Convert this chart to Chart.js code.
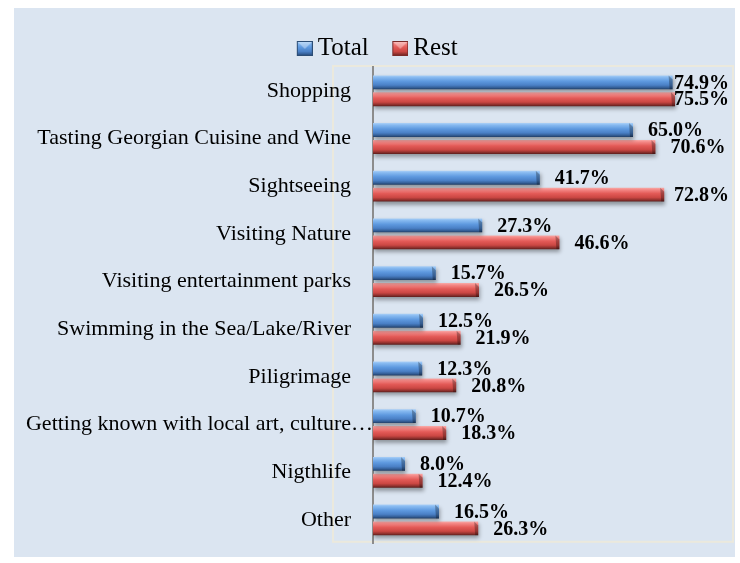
<!DOCTYPE html>
<html><head><meta charset="utf-8">
<script src="https://cdn.jsdelivr.net/npm/chart.js@4.4.1/dist/chart.umd.min.js"></script>
<style>
html,body{margin:0;padding:0;background:#fff;}
#wrap{position:absolute;left:14px;top:8px;width:721px;height:549px;background:#dbe5f1;}
</style></head><body>
<div id="wrap"><canvas id="c"></canvas></div>
<script>
const categories = ['Shopping','Tasting Georgian Cuisine and Wine','Sightseeing','Visiting Nature','Visiting entertainment parks','Swimming in the Sea/Lake/River','Piligrimage','Getting known with local art, culture\u2026','Nigthlife','Other'];
const totalValues = [74.9,65.0,41.7,27.3,15.7,12.5,12.3,10.7,8.0,16.5];
const restValues  = [75.5,70.6,72.8,46.6,26.5,21.9,20.8,18.3,12.4,26.3];
const seriesNames = ['Total','Rest'];
const axisMin = 0, axisMax = 90;
const overflowingLabel = 7; // label Excel lets run up to the axis

const palettes = [
  [[0,'#a9cff7'],[0.14,'#86b9f0'],[0.42,'#5e99df'],[0.7,'#4a80c6'],[0.86,'#36629c'],[1,'#213e66']],
  [[0,'#f8aaa8'],[0.14,'#f48886'],[0.42,'#e35a57'],[0.7,'#cb4743'],[0.86,'#963330'],[1,'#5c1e1c']]
];
const solid = [['#4f81bd','#2c4d75'],['#c0504d','#7b2a28']];

function legendSwatch(i){
  const L = 3;
  const cv = document.createElement('canvas');
  cv.width = 16 + L; cv.height = 15;
  const c = cv.getContext('2d');
  c.translate(L, 0);
  const g = c.createLinearGradient(0,0,0,15);
  palettes[i].forEach(([o,col])=>g.addColorStop(o,col));
  c.fillStyle = g; c.fillRect(0,0,16,15);
  c.fillStyle = 'rgba(255,255,255,0.35)';
  c.beginPath(); c.moveTo(0,0); c.lineTo(16,0); c.lineTo(8,8); c.closePath(); c.fill();
  c.strokeStyle = solid[i][1]; c.lineWidth = 1; c.strokeRect(0.5,0.5,15,14);
  return cv;
}
const swatches = [legendSwatch(0), legendSwatch(1)];

const plotFrame = {
  id:'plotFrame',
  beforeDraw(chart){
    const {ctx, chartArea:a} = chart;
    ctx.save();
    ctx.strokeStyle = '#ebe9dd';
    ctx.lineWidth = 2;
    ctx.strokeRect(a.left - 40, a.top - 1, a.right - a.left + 40, a.bottom - a.top - 1);
    ctx.restore();
  }
};

const barStyle = {
  id:'barStyle',
  beforeDatasetsDraw(chart){
    const ctx = chart.ctx;
    chart.data.datasets.forEach((ds,i)=>{
      chart.getDatasetMeta(i).data.forEach(el=>{
        const h = el.height, top = el.y - h/2;
        const g = ctx.createLinearGradient(0, top, 0, top + h);
        palettes[i].forEach(([o,c])=>g.addColorStop(o,c));
        el.options.backgroundColor = g;
      });
    });
    ctx.save();
    ctx.shadowColor = 'rgba(0,0,0,0.35)';
    ctx.shadowBlur = 4;
    ctx.shadowOffsetX = 1;
    ctx.shadowOffsetY = 3;
  },
  afterDatasetsDraw(chart){
    const ctx = chart.ctx;
    ctx.restore();
    const a = chart.chartArea;
    chart.data.datasets.forEach((ds,i)=>{
      chart.getDatasetMeta(i).data.forEach(el=>{
        const h = el.height, top = el.y - h/2, bot = el.y + h/2, x = el.x;
        ctx.fillStyle = 'rgba(0,0,0,0.28)';
        ctx.beginPath();
        ctx.moveTo(x - 4, top); ctx.lineTo(x, top + 4); ctx.lineTo(x, bot); ctx.lineTo(x - 3, bot);
        ctx.closePath(); ctx.fill();
      });
    });
    ctx.save();
    ctx.font = 'bold 20px "Liberation Serif"';
    ctx.fillStyle = '#000';
    ctx.textBaseline = 'middle';
    ctx.textAlign = 'left';
    chart.data.datasets.forEach((ds,i)=>{
      chart.getDatasetMeta(i).data.forEach((el,j)=>{
        const txt = ds.data[j].toFixed(1) + '%';
        const w = ctx.measureText(txt).width;
        let x = el.x + 15;
        const maxX = a.right - 4;
        if (x + w > maxX) x = maxX - w;
        ctx.fillText(txt, x, el.y + 1);
      });
    });
    ctx.restore();
  }
};

new Chart(document.getElementById('c'), {
  type:'bar',
  data:{
    labels: categories,
    datasets:[
      {label: seriesNames[0], data: totalValues, backgroundColor: ()=>solid[0][0], borderWidth:0, barPercentage:0.82, categoryPercentage:0.71},
      {label: seriesNames[1], data: restValues, backgroundColor: ()=>solid[1][0], borderWidth:0, barPercentage:0.82, categoryPercentage:0.71}
    ]
  },
  options:{
    indexAxis:'y',
    responsive:true,
    maintainAspectRatio:false,
    animation:false,
    layout:{autoPadding:false, padding:{left:12, right:2, top:0, bottom:10}},
    plugins:{
      tooltip:{enabled:false},
      legend:{
        position:'top',
        maxHeight:59,
        labels:{
          font:{family:'Liberation Serif', size:25},
          color:'#000',
          usePointStyle:true,
          boxWidth:4, boxHeight:15, padding:28,
          generateLabels(chart){
            return chart.data.datasets.map((ds,i)=>({
              text: ds.label, fillStyle: solid[i][0], strokeStyle: solid[i][1], lineWidth:1,
              pointStyle: swatches[i], hidden:false, datasetIndex:i, fontColor:'#000'
            }));
          }
        }
      }
    },
    scales:{
      x:{min:axisMin, max:axisMax, display:false},
      y:{
        ticks:{
          font:{family:'Liberation Serif', size:22}, color:'#000', padding:0, autoSkip:false,
          callback(v, i){ const l = this.getLabelForValue(v); return i === overflowingLabel ? l : l + '\u2003'; }
        },
        grid:{display:false, drawTicks:false},
        border:{display:true, color:'#8c8c8c', width:2},
        afterFit(s){ s.width = 347; }
      }
    }
  },
  plugins:[plotFrame, barStyle]
});
</script>
</body></html>
